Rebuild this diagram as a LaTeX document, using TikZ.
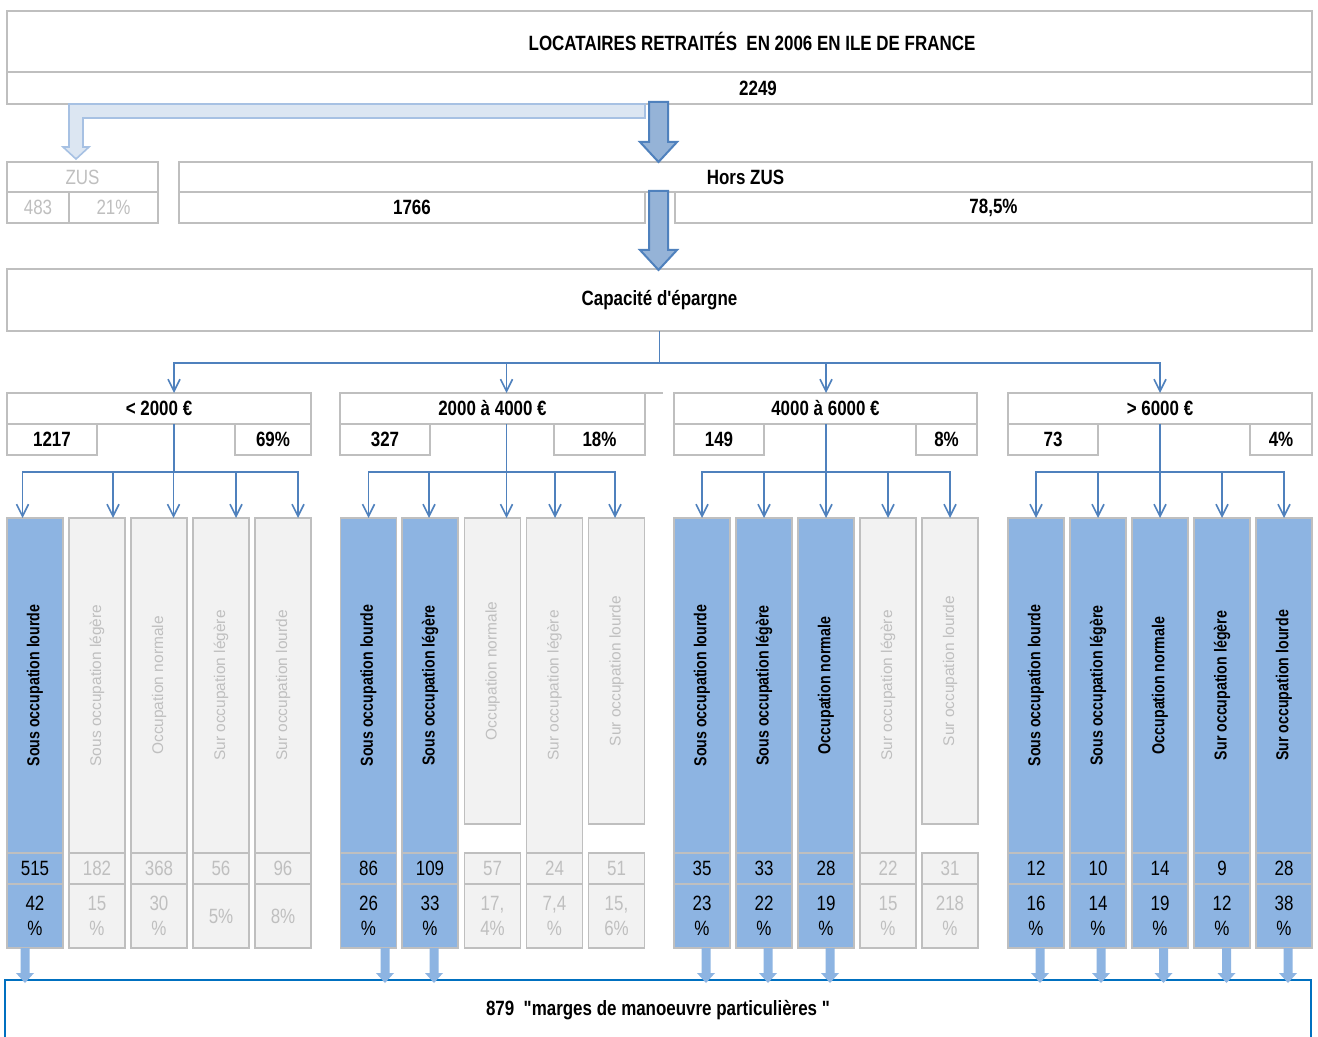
\documentclass[tikz,border=0pt]{standalone}
\usepackage{fontspec}
\setmainfont{Liberation Sans}
\newfontfamily\nar{Liberation Sans}[FakeStretch=0.82]
\usetikzlibrary{arrows.meta,calc}
\definecolor{frm}{HTML}{BFBFBF}
\definecolor{bfill}{HTML}{8DB4E2}
\definecolor{afill}{HTML}{95B3D7}
\definecolor{gfill}{HTML}{F2F2F2}
\definecolor{gtxt}{HTML}{BFBFBF}
\definecolor{cblue}{HTML}{4F81BD}
\definecolor{zfill}{HTML}{DCE6F2}
\definecolor{zline}{HTML}{A7C1E3}
\definecolor{aline}{HTML}{4F81BD}
\definecolor{mline}{HTML}{0070C0}
\tikzset{
  sz/.style 2 args={minimum width={(#1)*0.75pt}, minimum height={(#2)*0.75pt}},
  box/.style={draw=frm, line width=1.2pt, inner sep=0pt, outer sep=0pt, fill=white},
  hfont/.style={font=\nar\bfseries\fontsize{15.5}{18}\selectfont},
  nfont/.style={font=\nar\fontsize{15.5}{18.75}\selectfont},
  hbox/.style={box, hfont},
  zbox/.style={box, nfont, text=gtxt},
  bl/.style={box, fill=bfill, nfont, text=black, align=center},
  gr/.style={box, fill=gfill, nfont, text=gtxt, align=center},
  bllbl/.style={font=\nar\bfseries\fontsize{13}{15}\selectfont, text=black, inner sep=0pt},
  grlbl/.style={font=\fontsize{11.6}{14}\selectfont, text=gtxt, inner sep=0pt},
  txt/.style={inner sep=0pt, hfont},
  cn/.style={draw=cblue, line width=1.2pt},
  ca/.style={cn, -{Straight Barb[length=9pt,width=9pt]}},
  bigarr/.style={fill=afill, draw=aline, line width=1.5pt, line join=miter},
  zarr/.style={fill=zfill, draw=zline, line width=1.2pt, line join=miter},
  smarr/.style={fill=bfill},
  mbox/.style={draw=mline, line width=1.9pt, inner sep=0pt, outer sep=0pt},
}
% column: name, cx, label bottom, kind, label, number, percent
\newcommand\occol[7]{%
  \node[#4, sz={56}{#3-518}, anchor=north] (#1) at (#2,518) {};
  \node[#4lbl, rotate=90] (#1t) at (#1.center) {#5};
  \node[#4, sz={56}{31}, anchor=north] (#1n) at (#2,853) {#6};
  \node[#4, sz={56}{64}, anchor=north] (#1p) at (#2,884) {#7};
}
% small bottom arrow: column node, x offset
\newcommand\barr[2]{%
  \fill[smarr] ($(#1.south)+(#2,0)+(-4.5,0)$) -- ++(9,0) -- ++(0,25) -- ++(4.5,0)
    -- ++(-9,10) -- ++(-9,-10) -- ++(4.5,0) -- cycle;
}
\begin{document}
\begin{tikzpicture}[x=0.75pt,y=-0.75pt]
\useasboundingbox (0,0) rectangle (1318,1037);
\fill[white] (0,0) rectangle (1318,1037);

% top
\node[hbox, sz={1305}{61}] (ttlbox) at (659.5,41.5) {};
\node[hbox, sz={1305}{32}] (totbox) at (659.5,88) {};
\node[txt] (ttl) at (752,41) {LOCATAIRES RETRAITÉS\ \ EN 2006 EN ILE DE FRANCE};
\node[txt] (tot) at (758,88) {2249};

% ZUS / Hors ZUS
\node[zbox, sz={151}{30}] (zus) at (82.5,177) {ZUS};
\node[zbox, sz={62}{31}] (zusa) at (38,207.5) {483};
\node[zbox, sz={89}{31}] (zusb) at (113.5,207.5) {21\%};
\node[hbox, sz={1133}{30}] (hors) at (745.5,177) {Hors ZUS};
\node[hbox, sz={466}{31}] (horsa) at (412,207.5) {1766};
\node[hbox, sz={637}{31}] (horsb) at (993.5,207.5) {78,5\%};

% capacite
\node[hbox, sz={1305}{62}] (capa) at (659.5,300) {Capacité d\symbol{39}épargne};

% group headers
\node[hbox, sz={304}{31}] (g1h) at (159,408.5) {< 2000 €};
\node[hbox, sz={90}{31}] (g1a) at (52,439.5) {1217};
\node[hbox, sz={76}{31}] (g1b) at (273,439.5) {69\%};
\node[hbox, sz={305}{31}] (g2h) at (492.5,408.5) {2000 à 4000 €};
\node[hbox, sz={90}{31}] (g2a) at (385,439.5) {327};
\node[hbox, sz={91}{31}] (g2b) at (599.5,439.5) {18\%};
\draw[draw=frm, line width=1.2pt] (g2h.north east) -- ++(18,0);
\node[hbox, sz={303}{31}] (g3h) at (825.5,408.5) {4000 à 6000 €};
\node[hbox, sz={90}{31}] (g3a) at (719,439.5) {149};
\node[hbox, sz={61}{31}] (g3b) at (946.5,439.5) {8\%};
\node[hbox, sz={304}{31}] (g4h) at (1160,408.5) {> 6000 €};
\node[hbox, sz={90}{31}] (g4a) at (1053,439.5) {73};
\node[hbox, sz={62}{31}] (g4b) at (1281,439.5) {4\%};

% columns
\occol{c11}{35}{853}{bl}{Sous occupation lourde}{515}{42\\\%}
\occol{c12}{97}{853}{gr}{Sous occupation légère}{182}{15\\\%}
\occol{c13}{159}{853}{gr}{Occupation normale}{368}{30\\\%}
\occol{c14}{221}{853}{gr}{Sur occupation légère}{56}{5\%}
\occol{c15}{283}{853}{gr}{Sur occupation lourde}{96}{8\%}

\occol{c21}{368.5}{853}{bl}{Sous occupation lourde}{86}{26\\\%}
\occol{c22}{430}{853}{bl}{Sous occupation légère}{109}{33\\\%}
\occol{c23}{492.5}{824}{gr}{Occupation normale}{57}{17,\\4\%}
\occol{c24}{554.5}{853}{gr}{Sur occupation légère}{24}{7,4\\\%}
\occol{c25}{616.5}{824}{gr}{Sur occupation lourde}{51}{15,\\6\%}

\occol{c31}{702}{853}{bl}{Sous occupation lourde}{35}{23\\\%}
\occol{c32}{764}{853}{bl}{Sous occupation légère}{33}{22\\\%}
\occol{c33}{826}{853}{bl}{Occupation normale}{28}{19\\\%}
\occol{c34}{888}{853}{gr}{Sur occupation légère}{22}{15\\\%}
\occol{c35}{950}{824}{gr}{Sur occupation lourde}{31}{218\\\%}

\occol{c41}{1036}{853}{bl}{Sous occupation lourde}{12}{16\\\%}
\occol{c42}{1098}{853}{bl}{Sous occupation légère}{10}{14\\\%}
\occol{c43}{1160}{853}{bl}{Occupation normale}{14}{19\\\%}
\occol{c44}{1222}{853}{bl}{Sur occupation légère}{9}{12\\\%}
\occol{c45}{1284}{853}{bl}{Sur occupation lourde}{28}{38\\\%}

% bottom box
\node[mbox, sz={1306}{80}] (marg) at (658,1020) {};
\node[txt] (margt) at (658,1010) {879\ \ "marges de manoeuvre particulières "};

% connectors: capacite -> groups
\coordinate (bus) at (659.5,363);
\draw[cn] (capa.south) -- (bus);
\draw[ca] (bus) -| ($(g1h.north)+(15,0)$);
\draw[ca] (bus) -| ($(g2h.north)+(14,0)$);
\draw[ca] (bus) -| ($(g3h.north)+(0.5,0)$);
\draw[ca] (bus) -| (g4h.north);

% group -> columns
\coordinate (b1) at (174,472);
\draw[cn] (g1h.south -| b1) -- (b1);
\foreach \c/\d in {c11/-12.5,c12/16,c13/14.5,c14/15,c15/15}
  \draw[ca] (b1) -| ($(\c.north)+(\d,0)$);
\coordinate (b2) at (506.5,472);
\draw[cn] (g2h.south -| b2) -- (b2);
\foreach \c/\d in {c21/0,c22/-1,c23/14,c24/0.5,c25/-1.5}
  \draw[ca] (b2) -| ($(\c.north)+(\d,0)$);
\coordinate (b3) at (826,472);
\draw[cn] (g3h.south -| b3) -- (b3);
\foreach \c in {c31,c32,c33,c34,c35}
  \draw[ca] (b3) -| (\c.north);
\coordinate (b4) at (1160,472);
\draw[cn] (g4h.south -| b4) -- (b4);
\foreach \c in {c41,c42,c43,c44,c45}
  \draw[ca] (b4) -| (\c.north);

% ZUS arrow
\draw[zarr] (645,104) -- (645,118) -- (83,118) -- (83,147) -- (89,147) -- (76,159)
  -- (63,147) -- (69,147) -- (69,104) -- cycle;
% main block arrows
\draw[bigarr] (649,102) -- (668,102) -- (668,142) -- (677,142) -- (658.5,162)
  -- (640,142) -- (649,142) -- cycle;
\draw[bigarr] (649,191) -- (668,191) -- (668,250) -- (677,250) -- (658.5,270)
  -- (640,250) -- (649,250) -- cycle;

% bottom arrows
\barr{c11p}{-10}
\barr{c21p}{16.5}
\barr{c22p}{4}
\barr{c31p}{4}
\barr{c32p}{4}
\barr{c33p}{4}
\barr{c41p}{4}
\barr{c42p}{3}
\barr{c43p}{3.5}
\barr{c44p}{4.5}
\barr{c45p}{4}
\end{tikzpicture}
\end{document}
